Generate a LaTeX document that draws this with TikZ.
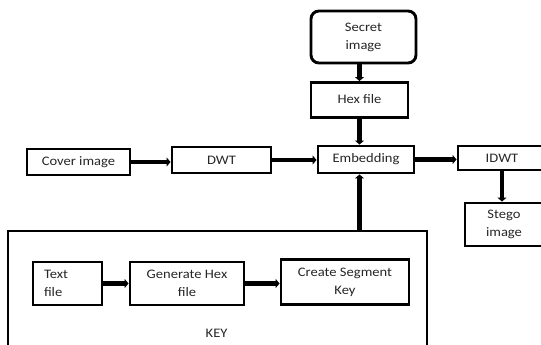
\documentclass[tikz,border=0pt]{standalone}
\usepackage{fontspec}
\setmainfont{Carlito}[FakeStretch=1.12]
\usetikzlibrary{arrows.meta}
\begin{document}
\begin{tikzpicture}[x=1pt,y=-1pt,
  box/.style={draw=black,line width=2.9pt,inner sep=0pt,align=center,
    font=\fontsize{13}{18}\selectfont,text=black!85},
  conn/.style={line width=4.4pt,-{Triangle[length=4pt,width=9pt]}}]
\useasboundingbox (0,0) rectangle (541,345);
\node[box,rounded corners=8pt,minimum width=105pt,minimum height=52pt] (secret) at (363.5,37) {Secret\\image};
\node[box,minimum width=97pt,minimum height=35pt] (hex) at (359.5,100) {\raisebox{3pt}{Hex file}};
\node[box,minimum width=103pt,minimum height=26pt] (cover) at (78.5,162) {Cover image};
\node[box,minimum width=99pt,minimum height=26pt] (dwt) at (221.5,160) {DWT};
\node[box,minimum width=96pt,minimum height=27pt] (emb) at (366,159.5) {Embedding};
\node[box,minimum width=88pt,minimum height=24pt] (idwt) at (502,158) {IDWT};
\node[box,minimum width=78pt,minimum height=43pt] (stego) at (504,224.5) {Stego\\image};
\node[box,minimum width=419pt,minimum height=130pt] (keybox) at (217.5,296) {};
\node[box,align=left,text width=47pt,inner xsep=11pt,minimum height=43pt] (text) at (67.5,283.5) {Text\\file};
\node[box,minimum width=114pt,minimum height=43pt] (gen) at (187,283.5) {Generate Hex\\file};
\node[box,minimum width=128pt,minimum height=45pt] (create) at (345,282) {Create Segment\\Key};
\node[font=\fontsize{13}{18}\selectfont,text=black!85] (keylbl) at (216.6,333) {KEY};
\draw[conn] (secret.south -| hex) -- (hex.north);
\draw[conn] (hex.south) -- (hex.south |- emb.north);
\draw[conn] (keybox.north -| hex) -- (hex.south |- emb.south);
\draw[conn] (cover.east) -- (cover.east -| dwt.west);
\draw[conn] (dwt.east) -- (dwt.east -| emb.west);
\draw[conn] (emb.east) -- (emb.east -| idwt.west);
\draw[conn] (idwt.south) -- (idwt.south |- stego.north);
\draw[conn] (text.east) -- (text.east -| gen.west);
\draw[conn] (gen.east) -- (gen.east -| create.west);
\end{tikzpicture}
\end{document}
